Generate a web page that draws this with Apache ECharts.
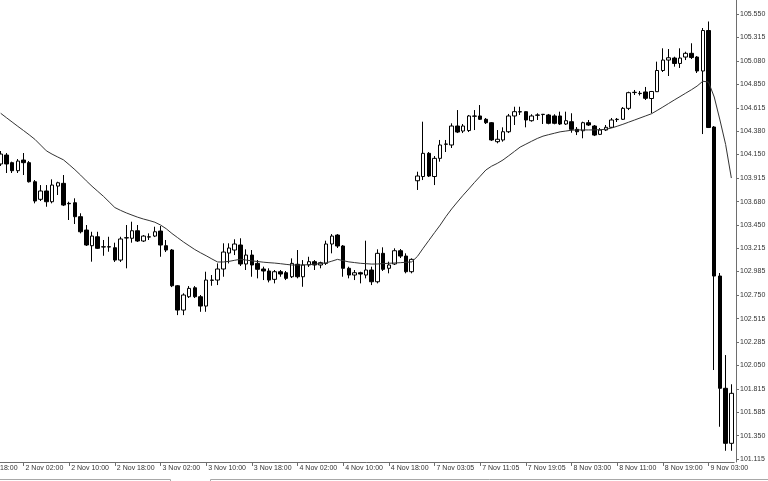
<!DOCTYPE html>
<html>
<head>
<meta charset="utf-8">
<script src="https://cdn.jsdelivr.net/npm/echarts@6/dist/echarts.min.js"></script>
<style>
html,body{margin:0;padding:0;background:#fff;overflow:hidden}
#chart{width:768px;height:481px}
</style>
</head>
<body>
<div id="chart"></div>
<script>
// ---- data ----
// tick labels of the time axis (one every 8 hourly bars)
const xTickLabels = [
  "1 Nov 18:00","2 Nov 02:00","2 Nov 10:00","2 Nov 18:00","3 Nov 02:00","3 Nov 10:00",
  "3 Nov 18:00","4 Nov 02:00","4 Nov 10:00","4 Nov 18:00","7 Nov 03:05","7 Nov 11:05",
  "7 Nov 19:05","8 Nov 03:00","8 Nov 11:00","8 Nov 19:00","9 Nov 03:00"
];
const barsPerTick = 8;
const leadingEmptyBars = 4; // bars left of the visible window (1 Nov 18:00 .. 21:00)

// price axis tick labels
const yTickLabels = [105.550,105.315,105.080,104.850,104.615,104.380,104.150,103.915,103.680,
  103.450,103.215,102.985,102.750,102.515,102.285,102.050,101.815,101.585,101.350,101.115];
const yRange = [101.088, 105.689];

// candles: [open, close, low, high]
const candles = [
  [104.056,104.155,104.036,104.185],[104.145,104.056,103.966,104.165],[104.069,103.989,103.966,104.079],
  [103.989,104.085,103.966,104.105],[104.095,104.069,103.946,104.165],[104.069,103.879,103.871,104.085],
  [103.879,103.687,103.664,103.896],[103.704,103.787,103.687,103.846],[103.787,103.680,103.630,103.846],
  [103.680,103.846,103.664,103.903],[103.836,103.869,103.747,103.879],[103.863,103.647,103.637,103.946],
  [103.664,103.660,103.498,103.680],[103.670,103.531,103.458,103.714],[103.531,103.381,103.365,103.565],
  [103.398,103.249,103.239,103.448],[103.242,103.338,103.083,103.381],[103.331,103.216,103.209,103.381],
  [103.229,103.232,103.142,103.299],[103.232,103.229,103.182,103.331],[103.222,103.099,103.080,103.272],
  [103.099,103.309,103.080,103.331],[103.319,103.322,103.017,103.448],[103.316,103.391,103.272,103.481],
  [103.391,103.289,103.279,103.448],[103.289,103.338,103.279,103.348],[103.328,103.331,103.299,103.365],
  [103.338,103.381,103.328,103.431],[103.388,103.249,103.132,103.438],[103.242,103.199,103.179,103.299],
  [103.199,102.843,102.830,103.209],[102.843,102.601,102.551,102.850],[102.601,102.751,102.551,102.768],
  [102.734,102.817,102.721,102.840],[102.823,102.734,102.721,102.840],[102.734,102.641,102.584,102.751],
  [102.641,102.900,102.584,102.983],[102.897,102.900,102.843,102.950],[102.900,103.010,102.850,103.066],
  [103.010,103.179,102.933,103.266],[103.169,103.219,103.066,103.266],[103.199,103.259,103.149,103.306],
  [103.249,103.060,103.040,103.316],[103.060,103.149,103.000,103.206],[103.149,103.050,102.933,103.199],
  [103.066,103.007,102.917,103.099],[103.010,102.990,102.900,103.033],[102.990,102.900,102.877,103.017],
  [102.907,102.983,102.867,103.000],[102.983,102.960,102.933,103.000],[102.973,102.917,102.900,102.990],
  [102.933,103.066,102.920,103.116],[103.057,102.933,102.917,103.199],[102.933,103.050,102.833,103.099],
  [103.050,103.083,103.030,103.132],[103.083,103.050,103.000,103.099],[103.050,103.073,103.017,103.083],
  [103.066,103.259,103.050,103.292],[103.259,103.338,103.166,103.358],[103.348,103.239,103.219,103.358],
  [103.239,103.017,102.933,103.249],[103.017,102.950,102.917,103.033],[102.950,102.973,102.900,103.000],
  [102.973,102.960,102.867,102.983],[102.950,103.000,102.917,103.292],[103.000,102.883,102.850,103.033],
  [102.883,103.166,102.867,103.206],[103.166,103.007,102.990,103.226],[103.017,103.050,102.967,103.083],
  [103.060,103.192,103.050,103.216],[103.192,103.139,103.119,103.209],[103.139,102.983,102.967,103.166],
  [102.983,103.106,102.967,103.116],[103.889,103.936,103.797,103.979],[103.931,104.162,103.896,104.477],
  [104.162,103.936,103.926,104.175],[103.931,104.112,103.846,104.135],[104.112,104.245,104.079,104.295],
  [104.252,104.255,104.175,104.295],[104.245,104.434,104.215,104.461],[104.434,104.374,104.364,104.593],
  [104.384,104.434,104.364,104.454],[104.389,104.534,104.374,104.544],[104.531,104.534,104.394,104.593],
  [104.534,104.501,104.494,104.643],[104.501,104.467,104.454,104.514],[104.467,104.295,104.285,104.474],
  [104.278,104.302,104.262,104.394],[104.295,104.377,104.278,104.421],[104.377,104.534,104.364,104.554],
  [104.534,104.577,104.444,104.626],[104.574,104.577,104.544,104.626],[104.577,104.494,104.421,104.580],
  [104.487,104.534,104.477,104.551],[104.541,104.544,104.494,104.561],[104.548,104.551,104.454,104.554],
  [104.544,104.461,104.451,104.554],[104.534,104.461,104.451,104.551],[104.534,104.454,104.444,104.577],
  [104.454,104.487,104.444,104.577],[104.477,104.401,104.367,104.561],[104.401,104.377,104.344,104.424],
  [104.387,104.467,104.312,104.477],[104.467,104.444,104.434,104.494],[104.434,104.344,104.334,104.444],
  [104.351,104.394,104.344,104.414],[104.394,104.421,104.384,104.444],[104.421,104.494,104.414,104.514],
  [104.498,104.501,104.474,104.514],[104.501,104.610,104.494,104.623],[104.610,104.766,104.593,104.776],
  [104.767,104.770,104.743,104.793],[104.757,104.760,104.738,104.783],[104.773,104.710,104.693,104.823],
  [104.708,104.778,104.561,104.783],[104.776,104.987,104.773,105.075],[104.987,105.091,104.972,105.208],
  [105.091,105.114,104.932,105.201],[105.111,105.057,105.025,105.124],[105.057,105.111,105.012,105.208],
  [105.121,105.158,105.091,105.174],[105.158,105.116,105.101,105.258],[105.121,104.982,104.962,105.131],
  [104.982,105.385,104.354,105.410],[105.385,104.419,104.414,105.475],[104.424,102.940,102.004,104.434],
  [102.940,101.822,101.439,102.970],[101.822,101.274,101.200,102.153],[101.274,101.772,101.200,101.862]
];

// moving average line
const maValues = [
  104.561,104.517,104.474,104.431,104.389,104.346,104.301,104.244,104.187,104.154,
  104.125,104.097,104.049,103.999,103.945,103.888,103.834,103.784,103.734,103.678,
  103.622,103.594,103.569,103.547,103.526,103.508,103.493,103.476,103.448,103.411,
  103.364,103.322,103.280,103.242,103.204,103.172,103.142,103.110,103.080,103.080,
  103.086,103.097,103.107,103.099,103.091,103.085,103.078,103.073,103.069,103.063,
  103.056,103.050,103.050,103.050,103.054,103.058,103.064,103.071,103.088,103.106,
  103.093,103.081,103.074,103.067,103.063,103.059,103.060,103.064,103.067,103.070,
  103.073,103.077,103.081,103.135,103.216,103.294,103.372,103.448,103.532,103.608,
  103.677,103.744,103.807,103.872,103.934,103.996,104.034,104.062,104.096,104.138,
  104.181,104.224,104.253,104.282,104.310,104.333,104.348,104.362,104.376,104.384,
  104.392,104.395,104.395,104.395,104.395,104.398,104.401,104.414,104.432,104.451,
  104.472,104.493,104.514,104.535,104.556,104.589,104.623,104.658,104.693,104.727,
  104.761,104.795,104.832,104.880,104.872,104.723,104.494,104.250,103.916
];

// ---- build categories (hourly bar names) from the tick labels ----
function buildCategories(total) {
  const cats = [];
  xTickLabels.forEach(lab => {
    const m = lab.match(/^(\d+) (\w+) (\d+):(\d+)$/);
    const d = +m[1], mon = m[2], h = +m[3], mm = m[4];
    for (let j = 0; j < barsPerTick; j++) {
      let hh = h + j, dd = d;
      if (hh >= 24) { hh -= 24; dd += 1; }
      cats.push(dd + ' ' + mon + ' ' + String(hh).padStart(2, '0') + ':' + mm);
    }
  });
  return cats.slice(0, total);
}
const totalBars = leadingEmptyBars + candles.length;
const categories = buildCategories(totalBars);
const empty = ['-', '-', '-', '-'];
const candleData = [];
const maData = [];
for (let i = 0; i < leadingEmptyBars; i++) { candleData.push(empty); maData.push('-'); }
candles.forEach(c => candleData.push(c));
maValues.forEach(v => maData.push(v));

const tickSet = new Set(xTickLabels);
const isTick = (i) => i % barsPerTick === 0;
const font = 'Liberation Sans, Arial, sans-serif';

const chart = echarts.init(document.getElementById('chart'), null, {renderer: 'canvas'});
chart.setOption({
  animation: false,
  backgroundColor: '#ffffff',
  grid: {left: -25, right: 33.8, top: 0, bottom: 19, containLabel: false, outerBoundsMode: 'none'},
  xAxis: {
    type: 'category',
    data: categories,
    boundaryGap: true,
    axisLine: {show: true, lineStyle: {color: '#6e6e6e', width: 1}},
    axisTick: {show: true, interval: isTick, alignWithLabel: true, length: 4, lineStyle: {color: '#6e6e6e'}},
    axisLabel: {
      interval: isTick, align: 'left', margin: 3, padding: [0, 0, 0, 2],
      fontSize: 7, color: '#333', fontFamily: font,
      formatter: v => tickSet.has(v) ? v : ''
    },
    splitLine: {show: false}
  },
  yAxis: {
    type: 'value',
    position: 'right',
    offset: 1.8,
    min: yRange[0],
    max: yRange[1],
    axisLine: {show: true, lineStyle: {color: '#6e6e6e', width: 1}},
    axisTick: {show: true, length: 3, customValues: yTickLabels, lineStyle: {color: '#6e6e6e'}},
    axisLabel: {
      customValues: yTickLabels, margin: 4,
      fontSize: 7, color: '#333', fontFamily: font,
      formatter: v => Number(v).toFixed(3)
    },
    splitLine: {show: false}
  },
  series: [
    {
      type: 'candlestick',
      data: candleData,
      barWidth: 4,
      clip: false,
      itemStyle: {
        color: '#ffffff', color0: '#000000',
        borderColor: '#000000', borderColor0: '#000000', borderWidth: 1
      }
    },
    {
      type: 'line',
      data: maData,
      symbol: 'none',
      smooth: false,
      connectNulls: false,
      lineStyle: {color: '#333333', width: 1}
    }
  ],
  graphic: [
    {type: 'line', silent: true, shape: {x1: 0, y1: 479.5, x2: 170.5, y2: 479.5}, style: {stroke: '#a8a8a8', lineWidth: 1}},
    {type: 'line', silent: true, shape: {x1: 170.5, y1: 479.5, x2: 170.5, y2: 481}, style: {stroke: '#a8a8a8', lineWidth: 1}},
    {type: 'line', silent: true, shape: {x1: 210.5, y1: 479.5, x2: 768, y2: 479.5}, style: {stroke: '#a8a8a8', lineWidth: 1}},
    {type: 'line', silent: true, shape: {x1: 210.5, y1: 479.5, x2: 210.5, y2: 481}, style: {stroke: '#a8a8a8', lineWidth: 1}}
  ]
});
</script>
</body>
</html>
